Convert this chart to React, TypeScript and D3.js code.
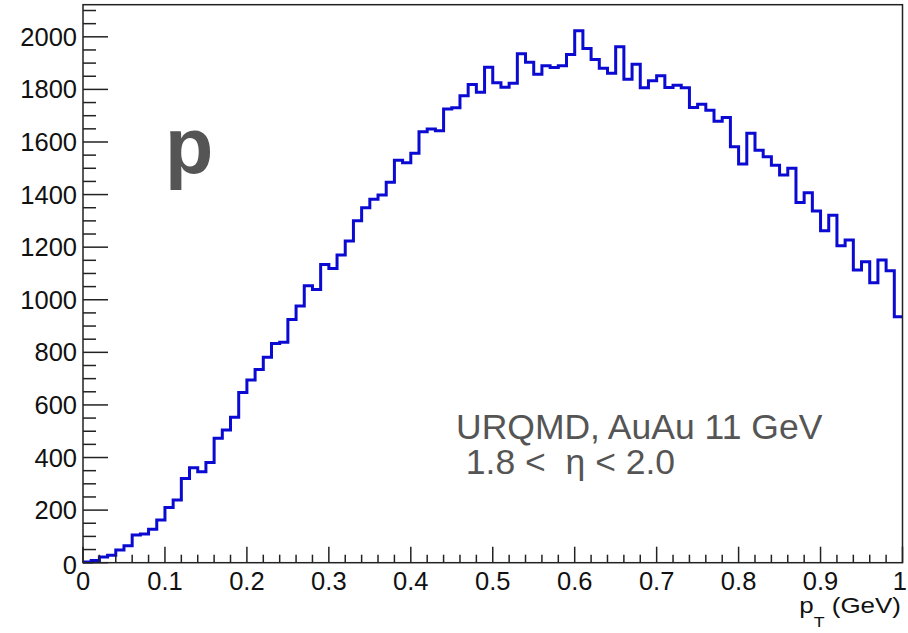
import React from "react";
import * as d3 from "d3";

// ---- data ----
const binCounts: number[] = [
  3, 8, 22, 28, 48, 64, 105, 109, 127, 162,
  210, 238, 320, 361, 346, 381, 473, 505, 553, 647,
  695, 735, 781, 834, 838, 925, 976, 1053, 1039, 1134,
  1119, 1170, 1223, 1300, 1350, 1382, 1398, 1447, 1531, 1521,
  1557, 1639, 1649, 1643, 1725, 1730, 1776, 1819, 1789, 1884,
  1825, 1808, 1823, 1936, 1903, 1858, 1890, 1883, 1890, 1933,
  2023, 1956, 1914, 1880, 1861, 1962, 1839, 1896, 1806, 1833,
  1852, 1807, 1816, 1806, 1731, 1744, 1721, 1679, 1693, 1582,
  1516, 1633, 1569, 1544, 1512, 1474, 1500, 1370, 1407, 1338,
  1262, 1321, 1205, 1227, 1113, 1145, 1065, 1151, 1110, 935,
];
const xMin = 0;
const xMax = 1;
const xMajorTicks: number[] = [0, 0.1, 0.2, 0.3, 0.4, 0.5, 0.6, 0.7, 0.8, 0.9, 1];
const xTickLabels: string[] = ["0", "0.1", "0.2", "0.3", "0.4", "0.5", "0.6", "0.7", "0.8", "0.9", "1"];
const yMajorTicks: number[] = [0, 200, 400, 600, 800, 1000, 1200, 1400, 1600, 1800, 2000];
const yMinorStep = 50;
const xMinorStep = 0.02;
const particleLabel = "p";
const infoLine1 = "URQMD, AuAu 11 GeV";
const infoLine2 = " 1.8 <  \u03b7 < 2.0";

const W = 908;
const H = 633;
const FONT = "'Liberation Sans', Arial, Helvetica, sans-serif";

export default function App() {
  const left = 83;
  const right = 902.5;
  const top = 4.7;
  const bottom = 562.7;

  const yMax = (d3.max(binCounts) as number) * 1.049;
  const x = d3.scaleLinear().domain([xMin, xMax]).range([left, right]);
  const y = d3.scaleLinear().domain([0, yMax]).range([bottom, top]);

  const nb = binCounts.length;
  const bw = (xMax - xMin) / nb;
  const pts: [number, number][] = binCounts.map((v, i) => [xMin + i * bw, v]);
  pts.push([xMax, binCounts[nb - 1]]);
  const line = d3
    .line<[number, number]>()
    .x((d) => x(d[0]))
    .y((d) => y(d[1]))
    .curve(d3.curveStepAfter);

  const yMinor = d3.range(0, yMax, yMinorStep).filter((v) => v % 200 !== 0);
  const xMinor = d3
    .range(0, Math.round((xMax - xMin) / xMinorStep) + 1)
    .map((k) => xMin + k * xMinorStep)
    .filter((_, k) => k % 5 !== 0);

  const axisColor = "#222";
  const textGrey = "#555";

  return (
    <svg
      width={W}
      height={H}
      style={{ position: "absolute", left: 0, top: 0, background: "#fff" }}
      fontFamily={FONT}
    >
      <rect x={0} y={0} width={W} height={H} fill="#fff" />
      {/* histogram */}
      <path d={line(pts) || ""} fill="none" stroke="#0a0ad2" strokeWidth={3} />

      {/* frame */}
      <rect
        x={left}
        y={top}
        width={right - left}
        height={bottom - top}
        fill="none"
        stroke={axisColor}
        strokeWidth={1.5}
      />

      {/* y ticks */}
      {yMajorTicks.map((v) => (
        <g key={"ym" + v}>
          <line x1={left} x2={left + 25} y1={y(v)} y2={y(v)} stroke={axisColor} strokeWidth={1.5} />
          <text
            x={left - 6}
            y={y(v) + 9 + (v === 0 ? 2 : 0)}
            textAnchor="end"
            fontSize={25.5}
            fill="#111"
          >
            {v}
          </text>
        </g>
      ))}
      {yMinor.map((v) => (
        <line key={"yn" + v} x1={left} x2={left + 13} y1={y(v)} y2={y(v)} stroke={axisColor} strokeWidth={1.5} />
      ))}

      {/* x ticks */}
      {xMajorTicks.map((v, i) => {
        const last = i === xMajorTicks.length - 1;
        return (
          <g key={"xm" + i}>
            <line x1={x(v)} x2={x(v)} y1={bottom} y2={bottom - 16} stroke={axisColor} strokeWidth={1.5} />
            <text
              x={last ? W - 1 : x(v)}
              y={bottom + 27}
              textAnchor={last ? "end" : "middle"}
              fontSize={25.5}
              fill="#111"
            >
              {xTickLabels[i]}
            </text>
          </g>
        );
      })}
      {xMinor.map((v, i) => (
        <line key={"xn" + i} x1={x(v)} x2={x(v)} y1={bottom} y2={bottom - 8} stroke={axisColor} strokeWidth={1.5} />
      ))}

      {/* x axis title */}
      <g transform={`translate(901,613) scale(1.18,1)`}>
        <text x={0} y={0} textAnchor="end" fontSize={22} fill="#111">
          p
          <tspan fontSize={15} dy={14}>T</tspan>
          <tspan dy={-14}> (GeV)</tspan>
        </text>
      </g>

      {/* big particle label */}
      <text x={165} y={173} fontSize={79} fontWeight="bold" fill={textGrey}>
        {particleLabel}
      </text>

      {/* info text */}
      <text x={456} y={439} fontSize={35.5} fill={textGrey} style={{ whiteSpace: "pre" }}>
        {infoLine1}
      </text>
      <text x={456} y={474} fontSize={35.5} fill={textGrey} style={{ whiteSpace: "pre" }} xmlSpace="preserve">
        {infoLine2}
      </text>
    </svg>
  );
}
